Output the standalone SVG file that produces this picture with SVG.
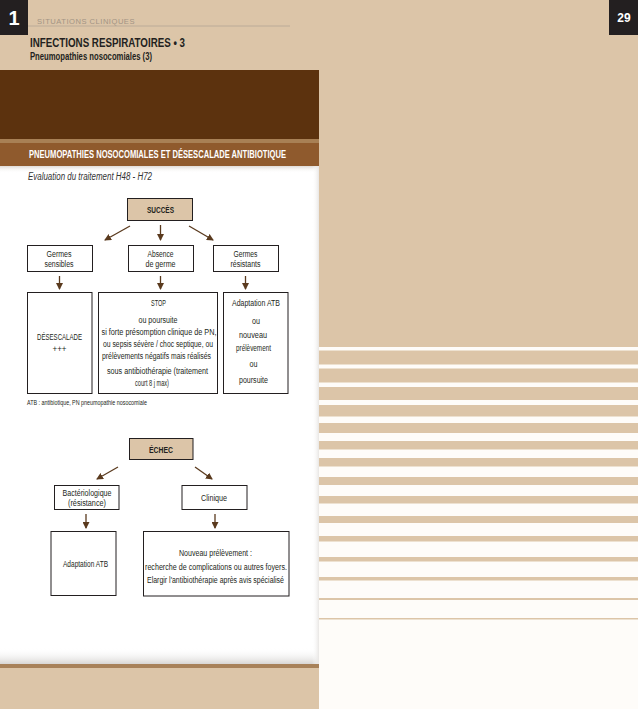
<svg xmlns="http://www.w3.org/2000/svg" width="638" height="709" viewBox="0 0 638 709">
<defs>
<style>
text{font-family:"Liberation Sans Narrow","Liberation Sans",Arial,sans-serif;fill:#231f20}
.t{font-size:8.5px}
.tb{font-size:9px;font-weight:bold}
.box{fill:#fff;stroke:#231f20;stroke-width:1}
.hbox{fill:#dcc5a8;stroke:#231f20;stroke-width:1}
.ar{stroke:#5a3a1e;stroke-width:1.3;fill:none;marker-end:url(#ah)}
.bar{fill:#dcc5a8}
</style>
<marker id="ah" markerUnits="userSpaceOnUse" markerWidth="7" markerHeight="7" refX="6" refY="3.5" orient="auto">
<path d="M0,0 L7,3.5 L0,7 z" fill="#5a3a1e"/>
</marker>
<linearGradient id="shB" x1="0" y1="0" x2="0" y2="1">
<stop offset="0" stop-color="#fff" stop-opacity="0"/>
<stop offset="1" stop-color="#d8d6d4"/>
</linearGradient>
<linearGradient id="shT" x1="0" y1="0" x2="0" y2="1">
<stop offset="0" stop-color="#dedad6"/>
<stop offset="1" stop-color="#fff" stop-opacity="0"/>
</linearGradient>
<linearGradient id="shR" x1="0" y1="0" x2="1" y2="0">
<stop offset="0" stop-color="#fff" stop-opacity="0"/>
<stop offset="1" stop-color="#e8e6e4"/>
</linearGradient>
</defs>

<!-- page background -->
<rect x="0" y="0" width="638" height="709" fill="#fefcf9"/>
<rect x="0" y="0" width="638" height="347" fill="#dcc5a8"/>
<g id="stripes">
<rect class="bar" x="319" y="350.5" width="319" height="14"/>
<rect class="bar" x="319" y="368.5" width="319" height="14"/>
<rect class="bar" x="319" y="387" width="319" height="13"/>
<rect class="bar" x="319" y="405" width="319" height="11.5"/>
<rect class="bar" x="319" y="423" width="319" height="10"/>
<rect class="bar" x="319" y="441" width="319" height="8.5"/>
<rect class="bar" x="319" y="458" width="319" height="8.5"/>
<rect class="bar" x="319" y="477" width="319" height="8"/>
<rect class="bar" x="319" y="496" width="319" height="7.5"/>
<rect class="bar" x="319" y="516" width="319" height="7"/>
<rect class="bar" x="319" y="536" width="319" height="5.5"/>
<rect class="bar" x="319" y="557" width="319" height="4.5"/>
<rect class="bar" x="319" y="577" width="319" height="3.5"/>
<rect class="bar" x="319" y="598" width="319" height="2"/>
<rect class="bar" x="319" y="618" width="319" height="1.5"/>
</g>

<!-- left column -->
<rect x="0" y="70" width="319" height="70" fill="#5c320e"/>
<rect x="0" y="139" width="319" height="4" fill="#a88055"/>
<rect x="0" y="143" width="319" height="23" fill="#8f5a2d"/>
<rect x="0" y="166" width="319" height="498" fill="#ffffff"/>
<rect x="0" y="166" width="319" height="7" fill="url(#shT)"/>
<rect x="0" y="648" width="319" height="16" fill="url(#shB)"/>
<rect x="312" y="166" width="7" height="498" fill="url(#shR)"/>
<rect x="0" y="664" width="319" height="4" fill="#a8825a"/>
<rect x="0" y="668" width="319" height="41" fill="#dcc5a8"/>

<!-- header -->
<g id="header">
<rect x="0" y="0" width="28" height="35" fill="#231f20"/>
<text x="14" y="25" text-anchor="middle" style="font-size:20px;font-weight:bold;fill:#fff">1</text>
<text x="37" y="23.5" textLength="98" lengthAdjust="spacingAndGlyphs" style="font-size:7.5px;fill:#a29484;letter-spacing:0.5px">SITUATIONS CLINIQUES</text>
<line x1="28" y1="26" x2="290" y2="26" stroke="#b3a594" stroke-width="0.8"/>
<text x="30" y="46.7" textLength="155" lengthAdjust="spacingAndGlyphs" style="font-size:12px;font-weight:bold">INFECTIONS RESPIRATOIRES • 3</text>
<text x="30" y="60" textLength="122" lengthAdjust="spacingAndGlyphs" style="font-size:10px;font-weight:bold">Pneumopathies nosocomiales (3)</text>
<rect x="609" y="0" width="29" height="35" fill="#231f20"/>
<text x="624" y="22" text-anchor="middle" style="font-size:12px;font-weight:bold;fill:#fff">29</text>
</g>

<g id="title">
<text x="29" y="158.3" textLength="257" lengthAdjust="spacingAndGlyphs" style="font-size:10.5px;font-weight:bold;fill:#fff">PNEUMOPATHIES NOSOCOMIALES ET DÉSESCALADE ANTIBIOTIQUE</text>
<text x="28" y="180" textLength="124" lengthAdjust="spacingAndGlyphs" style="font-size:10px;font-style:italic;fill:#333">Evaluation du traitement H48 - H72</text>
</g>

<!-- connectors -->
<g id="connectors">
<line class="ar" x1="130" y1="226" x2="105" y2="240"/>
<line class="ar" x1="160.5" y1="225" x2="160.5" y2="240"/>
<line class="ar" x1="189" y1="226" x2="213" y2="240"/>
<line class="ar" x1="59.5" y1="276" x2="59.5" y2="289"/>
<line class="ar" x1="160.5" y1="276" x2="160.5" y2="289"/>
<line class="ar" x1="245.5" y1="276" x2="245.5" y2="289"/>
<line class="ar" x1="118" y1="467" x2="97" y2="479"/>
<line class="ar" x1="195" y1="467" x2="212" y2="479"/>
<line class="ar" x1="86" y1="514" x2="86" y2="528"/>
<line class="ar" x1="215" y1="514" x2="215" y2="528"/>
</g>

<!-- SUCCES branch -->
<g id="succes">
<rect class="hbox" x="127.5" y="198.5" width="65" height="22"/>
<text class="tb" x="160.5" y="213" text-anchor="middle" textLength="27" lengthAdjust="spacingAndGlyphs">SUCCÈS</text>
</g>
<g id="germes-sensibles">
<rect class="box" x="27.5" y="245.5" width="65" height="26"/>
<text class="t" x="59" y="256.5" text-anchor="middle" textLength="25" lengthAdjust="spacingAndGlyphs">Germes</text>
<text class="t" x="59" y="267" text-anchor="middle" textLength="29" lengthAdjust="spacingAndGlyphs">sensibles</text>
</g>
<g id="absence-germe">
<rect class="box" x="128.5" y="245.5" width="65" height="26"/>
<text class="t" x="160.5" y="256.5" text-anchor="middle" textLength="26" lengthAdjust="spacingAndGlyphs">Absence</text>
<text class="t" x="160.5" y="267" text-anchor="middle" textLength="30" lengthAdjust="spacingAndGlyphs">de germe</text>
</g>
<g id="germes-resistants">
<rect class="box" x="213.5" y="245.5" width="65" height="26"/>
<text class="t" x="245.5" y="256.5" text-anchor="middle" textLength="24" lengthAdjust="spacingAndGlyphs">Germes</text>
<text class="t" x="245.5" y="267" text-anchor="middle" textLength="30" lengthAdjust="spacingAndGlyphs">résistants</text>
</g>
<g id="desescalade">
<rect class="box" x="27.5" y="292.5" width="64.5" height="101"/>
<text class="t" x="59.5" y="340" text-anchor="middle" textLength="45" lengthAdjust="spacingAndGlyphs">DÉSESCALADE</text>
<text class="t" x="59.5" y="352" text-anchor="middle" textLength="14" lengthAdjust="spacingAndGlyphs">+++</text>
</g>
<g id="stop">
<rect class="box" x="98.5" y="292.5" width="119" height="101"/>
<text class="t" x="158.5" y="306" text-anchor="middle" textLength="15" lengthAdjust="spacingAndGlyphs">STOP</text>
<text class="t" x="158" y="323" text-anchor="middle" textLength="39" lengthAdjust="spacingAndGlyphs">ou poursuite</text>
<text class="t" x="159" y="335" text-anchor="middle" textLength="115" lengthAdjust="spacingAndGlyphs">si forte présomption clinique de PN,</text>
<text class="t" x="158" y="347" text-anchor="middle" textLength="110" lengthAdjust="spacingAndGlyphs">ou sepsis sévère / choc septique, ou</text>
<text class="t" x="156.5" y="359" text-anchor="middle" textLength="109" lengthAdjust="spacingAndGlyphs">prélèvements négatifs mais réalisés</text>
<text class="t" x="157.5" y="374" text-anchor="middle" textLength="101" lengthAdjust="spacingAndGlyphs">sous antibiothérapie (traitement</text>
<text class="t" x="152" y="386" text-anchor="middle" textLength="34" lengthAdjust="spacingAndGlyphs">court 8 j max)</text>
</g>
<g id="adaptation-1">
<rect class="box" x="223.5" y="292.5" width="64.5" height="101"/>
<text class="t" x="256" y="306" text-anchor="middle" textLength="48" lengthAdjust="spacingAndGlyphs">Adaptation ATB</text>
<text class="t" x="256" y="323.5" text-anchor="middle" textLength="8" lengthAdjust="spacingAndGlyphs">ou</text>
<text class="t" x="253" y="337.5" text-anchor="middle" textLength="28" lengthAdjust="spacingAndGlyphs">nouveau</text>
<text class="t" x="253.5" y="350.5" text-anchor="middle" textLength="35" lengthAdjust="spacingAndGlyphs">prélèvement</text>
<text class="t" x="253.5" y="366.5" text-anchor="middle" textLength="8" lengthAdjust="spacingAndGlyphs">ou</text>
<text class="t" x="253.5" y="383" text-anchor="middle" textLength="29" lengthAdjust="spacingAndGlyphs">poursuite</text>
</g>
<text x="27" y="404.5" textLength="120" lengthAdjust="spacingAndGlyphs" style="font-size:7px">ATB : antibiotique, PN pneumopathie nosocomiale</text>

<!-- ECHEC branch -->
<g id="echec">
<rect class="hbox" x="129.5" y="438.5" width="63.5" height="21"/>
<text class="tb" x="161" y="452.7" text-anchor="middle" textLength="24" lengthAdjust="spacingAndGlyphs">ÉCHEC</text>
</g>
<g id="bacteriologique">
<rect class="box" x="54.5" y="485.5" width="64.5" height="24"/>
<text class="t" x="87" y="495.7" text-anchor="middle" textLength="49" lengthAdjust="spacingAndGlyphs">Bactériologique</text>
<text class="t" x="87" y="506" text-anchor="middle" textLength="38" lengthAdjust="spacingAndGlyphs">(résistance)</text>
</g>
<g id="clinique">
<rect class="box" x="182" y="485.5" width="65" height="24"/>
<text class="t" x="214" y="501" text-anchor="middle" textLength="26" lengthAdjust="spacingAndGlyphs">Clinique</text>
</g>
<g id="adaptation-2">
<rect class="box" x="51" y="531.5" width="65" height="64"/>
<text class="t" x="85.5" y="567" text-anchor="middle" textLength="45" lengthAdjust="spacingAndGlyphs">Adaptation ATB</text>
</g>
<g id="nouveau-prelevement">
<rect class="box" x="143.5" y="531.5" width="145.5" height="64.5"/>
<text class="t" x="215.5" y="556" text-anchor="middle" textLength="73" lengthAdjust="spacingAndGlyphs">Nouveau prélèvement :</text>
<text class="t" x="216" y="570" text-anchor="middle" textLength="142" lengthAdjust="spacingAndGlyphs">recherche de complications ou autres foyers.</text>
<text class="t" x="215.5" y="583.3" text-anchor="middle" textLength="137" lengthAdjust="spacingAndGlyphs">Elargir l'antibiothérapie après avis spécialisé</text>
</g>
</svg>
